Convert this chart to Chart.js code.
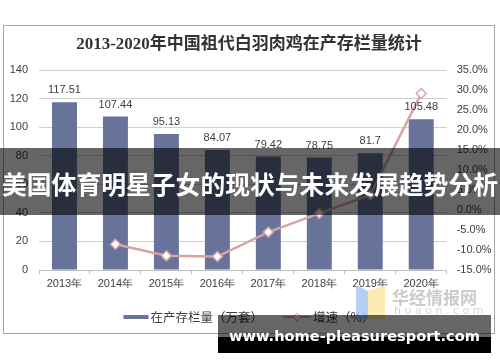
<!DOCTYPE html>
<html>
<head>
<meta charset="utf-8">
<script src="https://cdn.jsdelivr.net/npm/chart.js@4.4.0/dist/chart.umd.min.js"></script>
<style>
  body { margin: 0; width: 500px; height: 362px; background: #fff; position: relative; overflow: hidden; font-family: "Noto Sans CJK SC", sans-serif; }
  #frame { position: absolute; left: 3px; top: 25px; width: 490px; height: 307px; border: 1px solid #a6a6a6; }
  #frame canvas { display: block; }
  .logo { position: absolute; left: 354px; top: 283px; }
  .logo-text { position: absolute; left: 392px; top: 288px; font-size: 17px; line-height: 17px; font-weight: bold; color: #cbcbcb; white-space: nowrap; }
  .logo-sub { position: absolute; left: 394px; top: 305px; font-size: 11px; line-height: 11px; letter-spacing: 3.5px; color: #d6d6d6; font-family: "DejaVu Sans", sans-serif; }
  .banner { position: absolute; left: 0; top: 148px; width: 500px; height: 67px; background: rgba(0,0,0,0.6); color: #fff; font-size: 24.8px; font-weight: bold; line-height: 67px; text-align: center; white-space: nowrap; }
  .banner span { position: relative; top: 2px; }
  .wm-top { position: absolute; left: 218px; top: 315px; width: 273px; height: 22px; background: rgba(0,0,0,0.6); }
  .wm-bottom { position: absolute; left: 218px; top: 337px; width: 273px; height: 16px; background: #000; }
  .wm-text { position: absolute; left: 218px; top: 326px; width: 273px; height: 20px; line-height: 20px; text-align: center; color: #fff; font-family: "DejaVu Sans", sans-serif; font-weight: bold; font-size: 14.6px; white-space: nowrap; }
</style>
</head>
<body>
<div id="frame"><canvas id="stockChart" width="490" height="307"></canvas></div>

<svg class="logo" width="34" height="36" viewBox="0 0 34 36">
  <polygon points="2,2 14,8 14,36 2,36" fill="#a9c8f3" opacity="0.85"/>
  <polygon points="14,8 31,2 31,36 14,36" fill="#fbe9a3" opacity="0.85"/>
</svg>
<div class="logo-text">华经情报网</div>
<div class="logo-sub">huaon.com</div>

<div class="banner"><span>美国体育明星子女的现状与未来发展趋势分析</span></div>
<div class="wm-top"></div>
<div class="wm-bottom"></div>
<div class="wm-text">www.home-pleasuresport.com</div>

<script>
// Chart data
const years = ['2013年', '2014年', '2015年', '2016年', '2017年', '2018年', '2019年', '2020年'];
const stockValues = [117.51, 107.44, 95.13, 84.07, 79.42, 78.75, 81.7, 105.48];
const growthValues = [null, -8.57, -11.46, -11.63, -5.53, -0.84, 3.75, 29.11];

const stockLabel = '在产存栏量（万套）';
const growthLabel = '增速（%）';
const chartTitle = '2013-2020年中国祖代白羽肉鸡在产存栏量统计';

// Axis ranges
const leftMin = 0, leftMax = 140, leftStep = 20;
const rightMin = -15, rightMax = 35, rightStep = 5;

const barColor = '#68739b';
const lineColor = '#d9a3a3';
const textColor = '#404040';
const numFont = '"Liberation Sans", Arial, sans-serif';

// Value labels above bars
const barValueLabels = {
  id: 'barValueLabels',
  afterDatasetsDraw(chart) {
    const ctx = chart.ctx;
    const meta = chart.getDatasetMeta(0);
    ctx.save();
    ctx.font = '11px ' + numFont;
    ctx.fillStyle = textColor;
    ctx.textAlign = 'center';
    ctx.textBaseline = 'middle';
    meta.data.forEach((bar, i) => {
      ctx.fillText(String(stockValues[i]), bar.x, bar.y - 12);
    });
    ctx.restore();
  }
};

// Legend at the bottom (bar swatch + line with diamond)
const bottomLegend = {
  id: 'bottomLegend',
  afterDraw(chart) {
    const ctx = chart.ctx;
    const y = 291;
    ctx.save();
    ctx.font = '12.5px "Noto Sans CJK SC", sans-serif';
    const w1 = ctx.measureText(stockLabel).width;
    const w2 = ctx.measureText(growthLabel).width;
    const total = 25 + 2 + w1 + 20 + 28 + 2 + w2;
    let x = chart.width / 2 - total / 2;

    ctx.fillStyle = barColor;
    ctx.fillRect(x, y - 2, 25, 4);
    x += 27;
    ctx.fillStyle = textColor;
    ctx.textBaseline = 'middle';
    ctx.fillText(stockLabel, x, y);
    x += w1 + 20;

    ctx.strokeStyle = lineColor;
    ctx.lineWidth = 2;
    ctx.beginPath();
    ctx.moveTo(x, y);
    ctx.lineTo(x + 28, y);
    ctx.stroke();
    const cx = x + 14;
    ctx.beginPath();
    ctx.moveTo(cx, y - 4);
    ctx.lineTo(cx + 4, y);
    ctx.lineTo(cx, y + 4);
    ctx.lineTo(cx - 4, y);
    ctx.closePath();
    ctx.fillStyle = '#fff';
    ctx.fill();
    ctx.lineWidth = 1;
    ctx.stroke();
    x += 30;
    ctx.fillStyle = textColor;
    ctx.fillText(growthLabel, x, y);
    ctx.restore();
  }
};

function initStockChart() {
  const canvas = document.getElementById('stockChart');
  if (!canvas || typeof Chart === 'undefined') return;

  new Chart(canvas, {
    type: 'bar',
    data: {
      labels: years,
      datasets: [
        {
          type: 'bar',
          label: stockLabel,
          data: stockValues,
          backgroundColor: barColor,
          borderWidth: 0,
          barPercentage: 0.49,
          categoryPercentage: 1,
          yAxisID: 'y',
          order: 1
        },
        {
          type: 'line',
          label: growthLabel,
          data: growthValues,
          borderColor: lineColor,
          borderWidth: 2.5,
          tension: 0,
          pointStyle: 'rectRot',
          pointRadius: 5,
          pointBackgroundColor: '#fff',
          pointBorderColor: lineColor,
          pointBorderWidth: 1.5,
          yAxisID: 'y1',
          order: 0
        }
      ]
    },
    options: {
      responsive: false,
      devicePixelRatio: 1,
      animation: false,
      layout: { padding: { left: 0, right: 0, top: 0, bottom: 33 } },
      plugins: {
        legend: { display: false },
        tooltip: { enabled: false },
        title: {
          display: true,
          text: chartTitle,
          color: '#333',
          font: { size: 17, weight: 'bold', family: '"Liberation Serif", "Noto Sans CJK SC", serif' },
          padding: { top: 8, bottom: 15.6 }
        }
      },
      scales: {
        x: {
          grid: { drawOnChartArea: false, drawTicks: true, tickLength: 4, color: '#bfbfbf', offset: true },
          border: { color: '#bfbfbf' },
          ticks: { color: textColor, font: { size: 11, family: numFont }, padding: 3, maxRotation: 0 },
          afterFit: s => { s.height = 30; }
        },
        y: {
          position: 'left',
          min: leftMin,
          max: leftMax,
          ticks: { stepSize: leftStep, color: textColor, font: { size: 11, family: numFont }, padding: 11 },
          grid: { color: '#cfcfcf', drawTicks: false },
          border: { display: false },
          afterFit: s => { s.width = 35; }
        },
        y1: {
          position: 'right',
          min: rightMin,
          max: rightMax,
          ticks: {
            stepSize: rightStep,
            color: textColor,
            font: { size: 11, family: numFont },
            padding: 10,
            callback: v => v.toFixed(1) + '%'
          },
          grid: { drawOnChartArea: false, drawTicks: false },
          border: { display: false },
          afterFit: s => { s.width = 47.3; }
        }
      }
    },
    plugins: [barValueLabels, bottomLegend]
  });
}

initStockChart();
</script>
</body>
</html>
